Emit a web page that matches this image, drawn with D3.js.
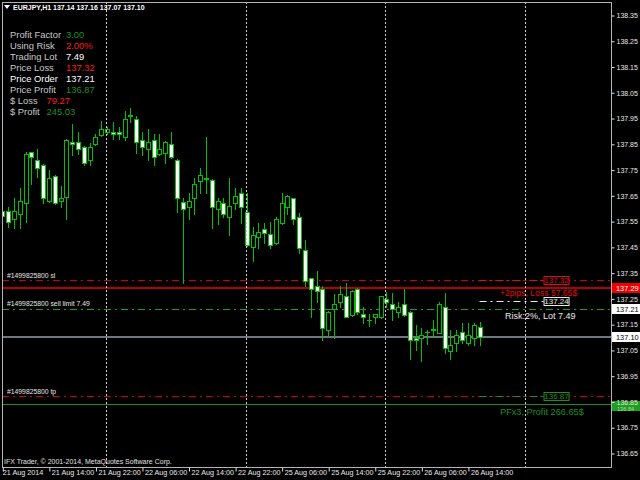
<!DOCTYPE html>
<html><head><meta charset="utf-8">
<script src="https://cdn.jsdelivr.net/npm/d3@7"></script>
<style>html,body{margin:0;padding:0;background:#000;overflow:hidden}svg{display:block}</style>
</head><body>
<svg id="c" width="640" height="480"></svg>
<script>
// ---------- DATA ----------
const headerText = "EURJPY,H1  137.14 137.16 137.07 137.10";
const opens = [137.59,137.589,137.557,137.576,137.619,137.817,137.787,137.768,137.628,137.726,
137.628,137.645,137.858,137.858,137.839,137.787,137.848,137.884,137.897,137.897,
137.897,137.878,137.958,137.946,137.865,137.828,137.865,137.809,137.816,137.849,
137.787,137.625,137.606,137.638,137.707,137.716,137.709,137.597,137.619,137.567,
137.619,137.658,137.587,137.451,137.487,137.518,137.499,137.466,137.544,137.606,
137.638,137.567,137.438,137.328,137.298,137.286,137.127,137.207,137.237,137.259,
137.185,137.286,137.188,137.166,137.176,137.176,137.247,137.227,137.196,137.227,
137.198,137.097,137.097,137.119,137.129,137.117,137.218,137.047,137.078,137.118,
137.078,137.097,137.14];
const highs = [137.61,137.606,137.638,137.677,137.819,137.819,137.829,137.772,137.748,137.728,
137.686,137.867,137.927,137.897,137.842,137.854,137.888,137.940,137.916,137.936,
137.916,137.979,137.988,137.958,137.897,137.906,137.887,137.887,137.861,137.897,
137.790,137.638,137.658,137.716,137.757,137.878,137.712,137.638,137.638,137.716,
137.677,137.677,137.658,137.528,137.541,137.541,137.548,137.567,137.658,137.651,
137.641,137.580,137.477,137.331,137.356,137.298,137.200,137.266,137.298,137.308,
137.282,137.289,137.218,137.188,137.190,137.261,137.276,137.270,137.237,137.286,
137.201,137.147,137.137,137.127,137.166,137.237,137.270,137.127,137.127,137.156,
137.156,137.156,137.16];
const lows = [137.53,137.528,137.524,137.524,137.545,137.696,137.722,137.619,137.625,137.616,
137.606,137.558,137.806,137.809,137.768,137.768,137.845,137.880,137.890,137.867,
137.867,137.865,137.936,137.816,137.806,137.787,137.768,137.806,137.774,137.794,
137.586,137.308,137.557,137.576,137.658,137.658,137.524,137.537,137.567,137.496,
137.597,137.544,137.455,137.395,137.447,137.466,137.447,137.463,137.537,137.576,
137.537,137.427,137.298,137.179,137.237,137.088,137.108,137.097,137.218,137.176,
137.182,137.188,137.156,137.144,137.156,137.175,137.218,137.166,137.176,137.183,
137.015,137.050,137.007,137.075,137.099,137.114,137.037,137.015,137.047,137.078,
137.069,137.069,137.07];
const closes = [137.57,137.545,137.589,137.628,137.809,137.797,137.757,137.638,137.716,137.619,
137.638,137.865,137.848,137.828,137.774,137.839,137.878,137.906,137.906,137.887,
137.887,137.946,137.961,137.856,137.839,137.858,137.797,137.828,137.858,137.797,
137.638,137.597,137.628,137.696,137.729,137.715,137.606,137.628,137.576,137.609,
137.649,137.606,137.457,137.496,137.506,137.505,137.457,137.557,137.619,137.647,
137.557,137.447,137.317,137.286,137.279,137.136,137.198,137.227,137.266,137.179,
137.279,137.198,137.176,137.165,137.188,137.259,137.237,137.207,137.218,137.185,
137.088,137.088,137.108,137.120,137.130,137.227,137.056,137.069,137.108,137.088,
137.108,137.147,137.10];

const timeLabels = ["21 Aug 2014","21 Aug 14:00","21 Aug 22:00","22 Aug 06:00","22 Aug 14:00",
"22 Aug 22:00","25 Aug 06:00","25 Aug 14:00","25 Aug 22:00","26 Aug 06:00","26 Aug 14:00"];
const timeLabelBars = [0,8,16,24,32,40,48,56,64,72,80];
const midnightBars = [18,42,66,90];
const priceTicks = [138.35,138.25,138.15,138.05,137.95,137.85,137.75,137.65,137.55,137.45,
137.35,137.25,137.15,137.05,136.95,136.85,136.75,136.65];

const infoLabels = ["Profit Factor","Using Risk","Trading Lot","Price Loss","Price Order","Price Profit","$ Loss","$ Profit"];
const infoValues = ["3.00","2.00%","7.49","137.32","137.21","136.87","79.27","245.03"];
const infoKinds  = ["good","bad","plain","bad","plain","good","bad","good"];

const orderTicket = "#1499825800";
const slPrice = 137.32, entryPrice = 137.21, tpPrice = 136.87;
const lossLinePrice = 137.29, bidPrice = 137.10, profitLinePrice = 136.84;
const lossMarkPrice = 137.32, entryMarkPrice = 137.24, profitMarkPrice = 136.87;
const lossText = "+2pips, Loss 57.65$";
const riskText = "Risk:2%, Lot 7.49";
const profitText = "PFx3, Profit 266.65$";
const copyright = "IFX Trader, \u00a9 2001-2014, MetaQuotes Software Corp.";

// ---------- DRAW ----------
const F = "'Liberation Sans', Arial, sans-serif";
const kindColor = {good:"#1f8f1f", bad:"#ff1a1a", plain:"#ffffff"};
const svg = d3.select("#c");
svg.append("rect").attr("width",640).attr("height",480).attr("fill","#000");

const nBars = opens.length;
const x = d3.scaleLinear().domain([0, nBars-1]).range([2.3, 2.3 + (nBars-1)*5.82]);
const y = d3.scaleLinear().domain([136.65, 138.35]).range([453, 15]);
const fr = {l:2, t:2, r:611, b:467};
const sy = v => Math.round(y(v)) + 0.5;

svg.append("defs").append("clipPath").attr("id","plot")
  .append("rect").attr("x",fr.l+1).attr("y",fr.t+1).attr("width",fr.r-fr.l-1).attr("height",fr.b-fr.t-1);
const plot = svg.append("g").attr("clip-path","url(#plot)");

// horizontal order lines
function hline(p, color, w, dash, x1, x2){
  const yy = w===1 ? sy(p) : Math.round(y(p));
  plot.append("line").attr("x1",x1===undefined?fr.l:x1).attr("x2",x2===undefined?fr.r:x2)
    .attr("y1",yy).attr("y2",yy).attr("stroke",color).attr("stroke-width",w)
    .attr("stroke-dasharray",dash||null);
}
const dd = "7,4,2,4";
hline(slPrice, "#d40000", 1, dd);
hline(lossLinePrice, "#b40000", 2);
hline(entryPrice, "#1e9e1e", 1, dd);
hline(bidPrice, "#6e7780", 2);
hline(tpPrice, "#d40000", 1, dd);
hline(profitLinePrice, "#1a8a1a", 1);

// order labels
const olab = [[slPrice," sl"],[entryPrice," sell limit 7.49"],[tpPrice," tp"]];
plot.selectAll("text.ol").data(olab).join("text").attr("class","ol")
  .attr("x",7).attr("y",d=>y(d[0])-2.5).attr("fill","#e6e6e6")
  .attr("font-family",F).attr("font-size","6.8px").text(d=>orderTicket+d[1]);

// candles
const cg = plot.append("g");
const cands = opens.map((o,i)=>({i,o,h:highs[i],l:lows[i],c:closes[i]}));
const wickColor = "#00c000";
cg.selectAll("line.w").data(cands).join("line").attr("class","w")
  .attr("x1",d=>Math.round(x(d.i))+0.5).attr("x2",d=>Math.round(x(d.i))+0.5)
  .attr("y1",d=>Math.round(y(d.h))).attr("y2",d=>Math.round(y(d.l))+1)
  .attr("stroke",wickColor).attr("stroke-width",1);
cg.selectAll("rect.b").data(cands).join("rect").attr("class","b")
  .attr("x",d=>Math.round(x(d.i))-1.5).attr("width",4)
  .attr("y",d=>Math.round(y(Math.max(d.o,d.c)))+0.5)
  .attr("height",d=>Math.max(Math.round(y(Math.min(d.o,d.c)))-Math.round(y(Math.max(d.o,d.c))),0.01))
  .attr("fill",d=>d.c<d.o?"#ffffff":"#000000")
  .attr("stroke",wickColor).attr("stroke-width",1);

// indicator marks on the right
const lastX = x(nBars-1);
const boxX = lastX + 64;
function mark(p, color, withLine){
  const yy = sy(p);
  if(withLine) plot.append("line").attr("x1",lastX).attr("x2",boxX).attr("y1",yy).attr("y2",yy)
    .attr("stroke",color).attr("stroke-width",1).attr("stroke-dasharray",dd);
  plot.append("rect").attr("x",boxX+0.5).attr("y",Math.round(y(p))-3.5).attr("width",25).attr("height",8)
    .attr("fill","#000").attr("stroke",color);
  plot.append("text").attr("x",boxX+13).attr("y",Math.round(y(p))+3).attr("text-anchor","middle")
    .attr("fill",color).attr("font-family",F).attr("font-size","8px").text(p.toFixed(2));
}
mark(lossMarkPrice, "#e01010", true);
mark(entryMarkPrice, "#e8e8e8", true);
mark(profitMarkPrice, "#1f8f1f", true);
plot.append("text").attr("x",500).attr("y",y(lossMarkPrice)+15.5).attr("fill","#e01010")
  .attr("font-family",F).attr("font-size","8.6px").text(lossText);
plot.append("text").attr("x",505).attr("y",y(entryMarkPrice)+18.5).attr("fill","#e8e8e8")
  .attr("font-family",F).attr("font-size","9px").text(riskText);
plot.append("text").attr("x",500).attr("y",y(profitMarkPrice)+18.5).attr("fill","#1f8f1f")
  .attr("font-family",F).attr("font-size","9.2px").text(profitText);

// vertical dotted grid (midnights)
plot.selectAll("line.g").data(midnightBars).join("line").attr("class","g")
  .attr("x1",d=>Math.round(x(d))-0.5).attr("x2",d=>Math.round(x(d))-0.5)
  .attr("y1",fr.t).attr("y2",fr.b).attr("stroke","#d0d0d0").attr("stroke-width",1)
  .attr("stroke-dasharray","2,2");

// frame
svg.append("rect").attr("x",fr.l+0.5).attr("y",fr.t+0.5).attr("width",fr.r-fr.l).attr("height",fr.b-fr.t)
  .attr("fill","none").attr("stroke","#b4b4b4").attr("stroke-width",1);

// axis price boxes (drawn under the tick labels)
function abox(p, fill, tcol){
  const yy = Math.round(y(p));
  svg.append("rect").attr("x",fr.r+1).attr("y",yy-5).attr("width",640-fr.r-1).attr("height",10).attr("fill",fill);
  svg.append("text").attr("x",fr.r+5).attr("y",yy+3).attr("fill",tcol)
    .attr("font-family",F).attr("font-size","7.4px").text(p.toFixed(2));
}
abox(lossLinePrice, "#ee0000", "#ffffff");
abox(entryPrice, "#ffffff", "#000000");
abox(bidPrice, "#ffffff", "#000000");

// green profit box, sitting just below the 136.85 tick text
(function(){
  const yy = Math.round(y(profitLinePrice));
  svg.append("rect").attr("x",fr.r+1).attr("y",yy-3).attr("width",640-fr.r-1).attr("height",10).attr("fill","#1e9e1e");
  svg.append("text").attr("x",fr.r+6).attr("y",yy+6.5).attr("fill","#9be09b")
    .attr("font-family",F).attr("font-size","5.6px").text(profitLinePrice.toFixed(2));
})();

// right price axis
const ya = svg.append("g").attr("transform",`translate(${fr.r+0.5},0.5)`)
  .call(d3.axisRight(y).tickValues(priceTicks).tickSize(3).tickPadding(2).tickFormat(d3.format(".2f")));
ya.select(".domain").remove();
ya.selectAll("line").attr("stroke","#e0e0e0");
ya.selectAll("text").attr("fill","#e8e8e8").attr("font-family",F).attr("font-size","7px");

// bottom time axis
const xa = svg.append("g").attr("transform",`translate(0.5,${fr.b+0.5})`)
  .call(d3.axisBottom(x).tickValues(timeLabelBars).tickSize(4)
    .tickFormat((d,k)=>timeLabels[k]));
xa.select(".domain").remove();
xa.selectAll("line").attr("stroke","#e0e0e0");
xa.selectAll("text").attr("fill","#e8e8e8").attr("font-family",F).attr("font-size","7.2px")
  .attr("text-anchor","start").attr("x",2).attr("y",2.5).attr("dy","0.71em");
xa.selectAll(".tick").filter((d,k)=>k===0).select("text").attr("x",-0.5);

// header
svg.append("path").attr("d","M4,5 L10,5 L7,9 Z").attr("fill","#ffffff");
svg.append("text").attr("x",13).attr("y",10).attr("fill","#ffffff").attr("font-family",F)
  .attr("font-size","7px").attr("font-weight","bold").text(headerText);

// info panel
const info = svg.append("g");
infoLabels.forEach((lab,k)=>{
  const by = 37.5 + k*11.1;
  info.append("text").attr("x",10).attr("y",by).attr("fill",k===4?"#ffffff":"#c8c8c8")
    .attr("font-family",F).attr("font-size","9.4px").text(lab);
  info.append("text").attr("x",k<6?66:46.5).attr("y",by).attr("fill",kindColor[infoKinds[k]])
    .attr("font-family",F).attr("font-size","9.4px").text(infoValues[k]);
});

// copyright
svg.append("text").attr("x",4).attr("y",464).attr("fill","#e0e0e0").attr("font-family",F)
  .attr("font-size","7px").text(copyright);
</script>
</body></html>
